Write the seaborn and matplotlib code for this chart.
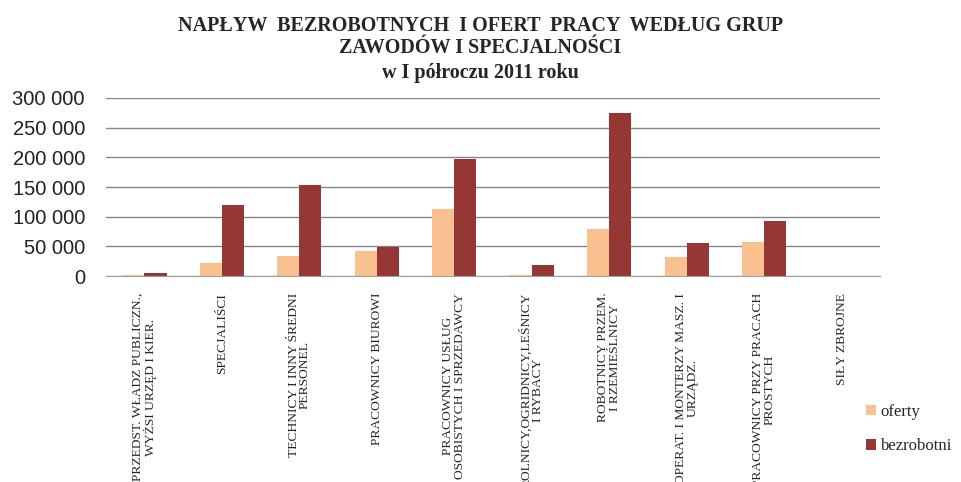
import pandas as pd
import matplotlib
matplotlib.use('Agg')
import matplotlib.pyplot as plt
import seaborn as sns
from matplotlib.ticker import FuncFormatter, FixedLocator

# data
categories = [
    'PRZEDST. WŁADZ PUBLICZN.,\nWYŻSI URZĘD I KIER.',
    'SPECJALIŚCI',
    'TECHNICY I INNY ŚREDNI\nPERSONEL',
    'PRACOWNICY BIUROWI',
    'PRACOWNICY USŁUG\nOSOBISTYCH I SPRZEDAWCY',
    'ROLNICY,OGRIDNICY,LEŚNICY\nI RYBACY',
    'ROBOTNICY PRZEM.\nI RZEMIEŚLNICY',
    'OPERAT. I MONTERZY MASZ. I\nURZĄDZ.',
    'PRACOWNICY PRZY PRACACH\nPROSTYCH',
    'SIŁY ZBROJNE',
]
oferty = [2300, 21500, 34000, 43000, 113000, 2300, 79500, 32000, 57000, 0]
bezrobotni = [5600, 120000, 153500, 49000, 197000, 18000, 274000, 55500, 92000, 0]

df = pd.DataFrame({
    'kat': categories * 2,
    'wartosc': oferty + bezrobotni,
    'seria': ['oferty'] * len(categories) + ['bezrobotni'] * len(categories),
})

sns.set_style('white')
fig = plt.figure(figsize=(9.61, 4.82), dpi=100)
ax = fig.add_axes([0.110, 0.427, 0.806, 0.370])

sns.barplot(data=df, x='kat', y='wartosc', hue='seria',
            palette={'oferty': '#F9C090', 'bezrobotni': '#953735'},
            width=0.57, saturation=1, edgecolor='none', ax=ax, legend=True)

ax.set_ylim(0, 300000)
ax.set_xlim(-0.5, len(categories) - 0.5)
ax.set_yticks(range(0, 300001, 50000))
ax.yaxis.set_major_formatter(FuncFormatter(lambda v, p: f'{int(v):,}'.replace(',', ' ')))
ax.grid(axis='y', color='#868686', lw=1)
ax.set_axisbelow(True)
for s in ['left', 'right', 'top']:
    ax.spines[s].set_visible(False)
ax.spines['bottom'].set_color('#a0a0a0')
ax.set_xlabel('')
ax.set_ylabel('')

for t in ax.get_yticklabels():
    t.set_fontfamily('Liberation Sans')
    t.set_fontsize(14.5)
    t.set_color('#222222')
ax.tick_params(axis='y', length=0, pad=15)

ax.set_xticks(range(len(categories)))
ax.set_xticklabels(categories, rotation=90, fontsize=9.7, family='Liberation Serif',
                   ha='center', va='top', multialignment='center', linespacing=0.95)
ax.tick_params(axis='x', which='major', length=0, pad=12)
ax.xaxis.set_minor_locator(FixedLocator([i - 0.5 for i in range(len(categories) + 1)]))
ax.tick_params(axis='x', which='minor', length=5, color='#a0a0a0', direction='out')

ax.get_legend().remove()
h, l = ax.get_legend_handles_labels()
fig.legend(h, l, loc='center left', bbox_to_anchor=(0.901, 0.11), frameon=False,
           prop={'family': 'Liberation Serif', 'size': 12}, handlelength=0.6,
           handleheight=0.6, handletextpad=0.3, labelspacing=1.1,
           borderpad=0, borderaxespad=0)

title_font = dict(ha='center', va='center', fontsize=14.5, fontweight='bold',
                  family='Liberation Serif')
fig.text(0.5, 0.947, 'NAPŁYW  BEZROBOTNYCH  I OFERT  PRACY  WEDŁUG GRUP', **title_font)
fig.text(0.5, 0.900, 'ZAWODÓW I SPECJALNOŚCI', **title_font)
fig.text(0.5, 0.849, 'w I półroczu 2011 roku', **title_font)

fig.savefig('out.png', dpi=100)
